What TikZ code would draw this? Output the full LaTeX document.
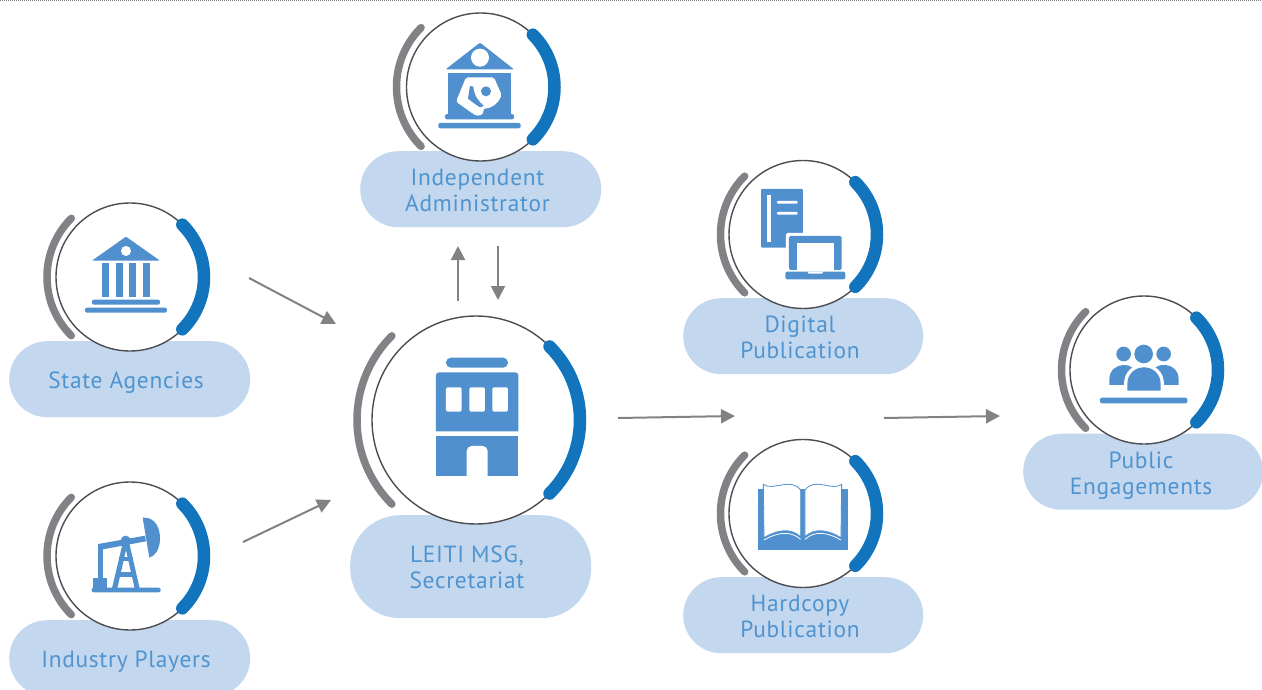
\documentclass[tikz,border=0pt]{standalone}
\usepackage{fontspec}
\setmainfont[LetterSpace=3]{PT Sans}
\usetikzlibrary{arrows.meta}
\definecolor{iconblue}{HTML}{5090CE}
\definecolor{arcblue}{HTML}{1174BC}
\definecolor{arcgray}{HTML}{808285}
\definecolor{ringgray}{HTML}{4D4D4F}
\definecolor{pillblue}{HTML}{C3D7EE}
\definecolor{textblue}{HTML}{4F94CF}
\tikzset{
  pill/.style={fill=pillblue,rounded corners=38pt,inner sep=0pt,anchor=north west},
  pilltext/.style={text=textblue,font=\fontsize{23.4}{26}\selectfont,align=center,inner sep=0pt},
  ring/.style={circle,draw=ringgray,line width=1.4pt,fill=white,inner sep=0pt},
  grayarc/.style={draw=arcgray,line width=7.5pt,line cap=round},
  bluearc/.style={draw=arcblue,line width=12.5pt,line cap=round},
  flow/.style={draw=arcgray,line width=2pt,-{Triangle[length=14pt,width=14pt]}},
  ico/.style={fill=iconblue,draw=none},
  icw/.style={fill=white,draw=none},
}
\newcommand{\ringat}[5]{% name, x, y, r, R
  \node[ring,minimum size=#4*2pt] (#1) at (#2,#3) {};
  \draw[grayarc] ([shift={(135:#5pt)}]#1.center) arc[start angle=135,end angle=225,radius=#5pt];
  \draw[bluearc] ([shift={(45:#4pt)}]#1.center) arc[start angle=45,end angle=-45,radius=#4pt];
}
\newcommand{\pillat}[5]{% name x y w h
  \node[pill,minimum width=#4pt,minimum height=#5pt] (#1) at (#2,#3) {};
}
\begin{document}
\begin{tikzpicture}[x=1pt,y=-1pt]
\useasboundingbox (0,0) rectangle (1262,690);
\clip (0,0) rectangle (1262,690);
\coordinate (dotL) at (0,0.6);
\coordinate (dotR) at (1262,0.6);
\draw[arcgray,line width=0.9pt,dash pattern=on 1pt off 1pt] (dotL) -- (dotR);

% pills
\pillat{pState}{9}{341}{241}{76}
\pillat{pIndustry}{9}{620}{241}{76}
\pillat{pIndep}{360}{151}{241}{76}
\node[pill,minimum width=241pt,minimum height=103pt,rounded corners=50pt] (pLeiti) at (350,515) {};
\pillat{pDigital}{683}{298}{240}{76}
\pillat{pHard}{683}{577}{240}{76}
\pillat{pPublic}{1023}{433.5}{240}{76}

% rings
\ringat{rState}{130}{277}{74}{83}
\ringat{rIndustry}{130}{556}{74}{83}
\ringat{rIndep}{480.5}{87}{74}{84}
\ringat{rLeiti}{476}{420}{104}{119}
\ringat{rDigital}{803}{234.5}{74}{82.5}
\ringat{rHard}{803}{513.5}{74}{82.5}
\ringat{rPublic}{1144}{370}{74}{82.5}

% labels
\node[pilltext] (tState) at (126,382.5) {State Agencies};
\node[pilltext] (tIndustry) at (126,661.5) {Industry Players};
\node[pilltext] (tIndep) at (477.5,190) {Independent\\Administrator};
\node[pilltext] (tLeiti) at (467,567.5) {LEITI MSG,\\Secretariat};
\node[pilltext] (tDigital) at (800,337.5) {Digital\\Publication};
\node[pilltext] (tHard) at (800,616.5) {Hardcopy\\Publication};
\node[pilltext] (tPublic) at (1141,475.5) {Public\\Engagements};

% connectors
\coordinate (a1s) at (249,278); \coordinate (a1e) at (336,324);
\coordinate (a2s) at (243,542); \coordinate (a2e) at (331,500);
\coordinate (a3s) at (458,301); \coordinate (a3e) at (458,246);
\coordinate (a4s) at (498,246); \coordinate (a4e) at (498,300);
\coordinate (a5s) at (618,418); \coordinate (a5e) at (735,416);
\coordinate (a6s) at (884,418); \coordinate (a6e) at (1000,416);
\draw[flow] (a1s) -- (a1e);
\draw[flow] (a2s) -- (a2e);
\draw[flow] (a3s) -- (a3e);
\draw[flow] (a4s) -- (a4e);
\draw[flow] (a5s) -- (a5e);
\draw[flow] (a6s) -- (a6e);

% icon: Independent Administrator
\begin{scope}[shift={(380,0)},x=0.3333pt,y=-0.3333pt]
  \fill[ico,rounded corners=1pt] (300,128) -- (402,208) -- (197,208) -- cycle;
  \fill[icw] (300,173) circle[radius=27pt*0.3333];
  \fill[ico] (205,218) rectangle (392,345);
  \fill[ico,rounded corners=2pt] (195,342) rectangle (402,358);
  \fill[ico,rounded corners=2pt] (175,369) rectangle (422,385);
  \fill[icw,rounded corners=2pt] (258,232) -- (342,232) -- (365,285)
     .. controls (355,310) and (335,325) .. (310,326)
     .. controls (312,345) and (295,350) .. (280,342) -- (228,305) -- cycle;
  \fill[ico] (270,258) -- (280,260) .. controls (282,285) and (295,305) .. (312,318)
     -- (300,322) .. controls (285,312) and (275,305) .. (264,296) -- cycle;
  \fill[ico] (318,274) circle[radius=15pt*0.3333];
\end{scope}

% icon: State Agencies
\begin{scope}[shift={(30,190)},x=0.3333pt,y=-0.3333pt]
  \fill[ico,rounded corners=1pt] (288,140) -- (390,212) -- (186,212) -- cycle;
  \fill[icw] (288,183) circle[radius=15pt*0.3333];
  \foreach \cx in {216,258,297,339}{\fill[ico] (\cx,219) rectangle (\cx+21,320);}
  \fill[ico,rounded corners=2pt] (186,329) rectangle (390,344);
  \fill[ico,rounded corners=2pt] (165,353) rectangle (411,368);
\end{scope}

% icon: Industry Players
\begin{scope}[shift={(30,470)},x=0.3333pt,y=-0.3333pt]
  \fill[ico,rounded corners=2pt] (185,353) rectangle (392,367);
  \fill[ico] (188,325) rectangle (232,355);
  \fill[ico] (203,222) rectangle (220,330);
  \fill[ico] (205,222) -- (345,197) -- (348,214) -- (208,240) -- cycle;
  \fill[ico] (338,143) .. controls (375,140) and (392,175) .. (390,210)
     .. controls (388,240) and (375,258) .. (358,263) -- cycle;
  \fill[ico] (280,212) -- (296,212) -- (329,355) -- (314,355) -- (288,240) -- (262,355) -- (246,355) -- cycle;
  \fill[ico] (268,262) rectangle (308,272);
  \fill[ico] (258,305) rectangle (318,320);
  \fill[ico] (287,212) circle[radius=15pt*0.3333];
\end{scope}

% icon: LEITI MSG
\begin{scope}[shift={(345,320)},x=0.3333pt,y=-0.3333pt]
  \fill[ico,rounded corners=4.9pt] (303,113) rectangle (489,143);
  \fill[ico] (273,334) -- (273,165) [rounded corners=3pt] -- (273,157) -- (520,157) [sharp corners] -- (520,334) -- cycle;
  \foreach \cx in {303,373,442}{\fill[icw,rounded corners=1.5pt] (\cx,202) rectangle (\cx+47,275);}
  \fill[ico] (273,349) rectangle (520,467);
  \fill[icw,rounded corners=5pt] (365,480) -- (365,378) -- (428,378) -- (428,480) -- cycle;
  \fill[white] (360,467) rectangle (433,485);
\end{scope}

% icon: Digital Publication
\begin{scope}[shift={(710,160)},x=0.3333pt,y=-0.3333pt]
  \fill[ico,rounded corners=1pt] (153,87) rectangle (279,263);
  \fill[icw] (171,105) rectangle (184,245);
  \fill[icw,rounded corners=1pt] (201,123) rectangle (263,131);
  \fill[icw,rounded corners=1pt] (201,156) rectangle (263,164);
  \fill[icw,rounded corners=2pt] (228,219) rectangle (404,336);
  \fill[ico,rounded corners=2pt] (237,228) rectangle (395,330);
  \fill[icw] (260,250) rectangle (373,335);
  \fill[ico,rounded corners=2pt] (226,335) rectangle (406,358);
  \fill[icw] (292,335) -- (340,335) -- (336,341) -- (296,341) -- cycle;
\end{scope}

% icon: Hardcopy Publication
\begin{scope}[shift={(710,440)},x=0.3333pt,y=-0.3333pt]
  \fill[ico] (145,147) rectangle (414,331);
  \fill[icw] (150,120) rectangle (408,147);
  \path[fill=white,draw=iconblue,line width=0.8pt]
    (160,133) .. controls (190,155) and (240,110) .. (272,150) -- (272,290)
    .. controls (240,262) and (200,270) .. (162,293) -- cycle;
  \path[fill=white,draw=iconblue,line width=0.8pt]
    (395,133) .. controls (365,155) and (315,110) .. (285,150) -- (285,290)
    .. controls (315,262) and (355,270) .. (393,293) -- cycle;
  \draw[white,line width=0.8pt] (162,300) .. controls (200,278) and (240,270) .. (272,298);
  \draw[white,line width=0.8pt] (393,300) .. controls (355,278) and (315,270) .. (285,298);
\end{scope}

% icon: Public Engagements
\begin{scope}[shift={(1050,290)},x=0.3333pt,y=-0.3333pt]
  \fill[ico] (221,192) circle[radius=22pt*0.3333];
  \fill[ico] (341,192) circle[radius=22pt*0.3333];
  \fill[ico] (281,192) circle[radius=28pt*0.3333];
  \fill[ico] (178,285) -- (178,268) .. controls (178,240) and (200,225) .. (221,225)
     .. controls (245,225) and (264,240) .. (264,268) -- (264,285) -- cycle;
  \fill[ico] (298,285) -- (298,268) .. controls (298,240) and (318,225) .. (341,225)
     .. controls (365,225) and (386,240) .. (386,268) -- (386,285) -- cycle;
  \fill[icw] (222,312) -- (222,282) .. controls (222,245) and (250,222) .. (282,222)
     .. controls (314,222) and (342,245) .. (342,282) -- (342,312) -- cycle;
  \fill[ico] (232,302) -- (232,282) .. controls (232,252) and (255,232) .. (282,232)
     .. controls (309,232) and (332,252) .. (332,282) -- (332,302) -- cycle;
  \fill[ico,rounded corners=2pt] (150,323) rectangle (412,340);
\end{scope}
\end{tikzpicture}
\end{document}
